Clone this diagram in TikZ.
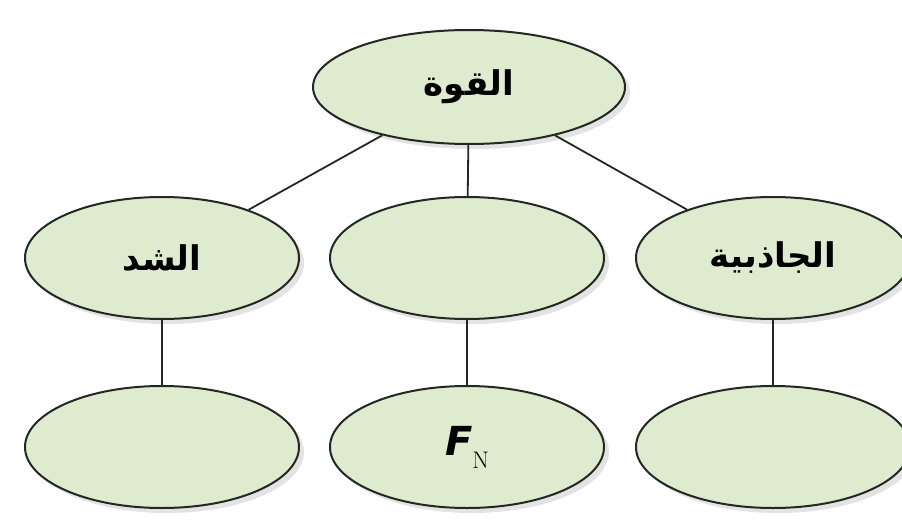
\documentclass[tikz,border=0pt]{standalone}
\usepackage{fontspec}
\newfontfamily\arabicfont[Script=Arabic]{DejaVu Sans}
\newfontfamily\symfont{DejaVu Sans}
\TeXXeTstate=1
\usetikzlibrary{shapes.geometric, shadows}
\definecolor{leaf}{RGB}{222,235,206}
\definecolor{rim}{RGB}{35,40,35}

\begin{document}
\begin{tikzpicture}[
  x=1pt, y=1pt,
  oval/.style={ellipse, draw=rim, line width=2pt, fill=leaf, inner sep=0pt,
               minimum width=274pt, minimum height=122pt,
               drop shadow={opacity=0.22, shadow xshift=5pt, shadow yshift=-5pt},
               font=\arabicfont\bfseries\fontsize{34}{36}\selectfont},
  link/.style={draw=rim, line width=1.8pt}
]
\useasboundingbox (0,0) rectangle (902,-524);
% root of the tree
\node[oval, minimum width=312pt, minimum height=114pt] (force) at (469,-87) {\beginR القوة\endR};
% the three kinds of force
\node[oval] (tension) at (162,-258) {\beginR الشد\endR};
\node[oval] (normal)  at (467,-258) {};
\node[oval] (gravity) at (773,-258) {\beginR الجاذبية\endR};
% symbols under each kind
\node[oval] (tsym) at (162,-447) {};
\node[oval] (nsym) at (467,-447) {\raisebox{-4pt}{\symfont\bfseries\itshape\fontsize{40}{42}\selectfont F\raisebox{-13pt}{\normalfont\rmfamily\fontsize{24}{26}\selectfont N}}};
\node[oval] (gsym) at (773,-447) {};
\draw[link] (force) -- (tension);
\draw[link] (force) -- (normal);
\draw[link] (force) -- (gravity);
\draw[link] (tension) -- (tsym);
\draw[link] (normal) -- (nsym);
\draw[link] (gravity) -- (gsym);
\end{tikzpicture}
\end{document}
